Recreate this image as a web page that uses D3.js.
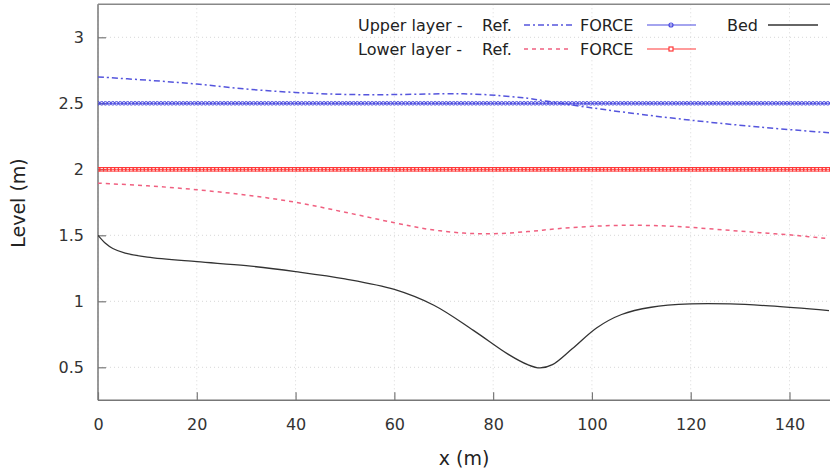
<!DOCTYPE html>
<html><head><meta charset="utf-8">
<script src="https://cdn.jsdelivr.net/npm/d3@7"></script>
<style>body{margin:0;background:#fff}svg{display:block}</style>
</head><body>
<svg id="c" width="830" height="470"></svg>
<script>
const xTicks = [0,20,40,60,80,100,120,140];
const yTicks = [0.5,1,1.5,2,2.5,3];
const yTickLabels = ["0.5","1","1.5","2","2.5","3"];

const upperRefX = [0,10,20,30,40,50,60,70,76,82,87,91,98,107,120,134,148];
const upperRefY = [2.70,2.675,2.646,2.608,2.582,2.567,2.566,2.572,2.57,2.556,2.538,2.515,2.476,2.43,2.372,2.32,2.277];

const lowerRefX = [0,10,20,30,40,50,60,67,74,80,87,93,100,107,114,120,127,134,141,148];
const lowerRefY = [1.895,1.875,1.845,1.805,1.75,1.675,1.595,1.545,1.517,1.512,1.528,1.55,1.568,1.576,1.572,1.56,1.54,1.52,1.50,1.474];

const bedX = [0,1.5,3,5.5,10,20,30,40,50,60,68,76,83,87,89.5,92,96,101,106,112,120,128,136,148];
const bedY = [1.50,1.44,1.40,1.365,1.335,1.30,1.27,1.225,1.17,1.09,0.97,0.78,0.60,0.52,0.495,0.52,0.64,0.80,0.90,0.955,0.98,0.98,0.965,0.93];

const forceX = d3.range(0, 149, 0.75);
const upperForce = forceX.map(() => 2.5);
const lowerForce = forceX.map(() => 2.0);

const svg = d3.select("#c");
const L = 98, T = 4.3, B = 400.3, R = 830;
const x = d3.scaleLinear().domain([0,148.2]).range([L,R]);
const y = d3.scaleLinear().domain([0.25,3.25]).range([B,T]);

svg.append("defs").append("clipPath").attr("id","clip")
  .append("rect").attr("x",L).attr("y",T).attr("width",R-L).attr("height",B-T);

// grid
const grid = svg.append("g");
xTicks.forEach(t=>grid.append("line").attr("x1",x(t)).attr("x2",x(t)).attr("y1",T).attr("y2",B)
  .attr("stroke","#d8d8d8").attr("stroke-width",1).attr("stroke-dasharray","1,3"));
yTicks.forEach(t=>grid.append("line").attr("x1",L).attr("x2",R).attr("y1",y(t)).attr("y2",y(t))
  .attr("stroke","#d8d8d8").attr("stroke-width",1).attr("stroke-dasharray","1,3"));

const font = "'DejaVu Sans', sans-serif";
// axes
const xAxis = svg.append("g").attr("transform",`translate(0,${B})`)
  .call(d3.axisBottom(x).tickValues(xTicks).tickSize(-8).tickPadding(18).tickSizeOuter(0));
const yAxis = svg.append("g").attr("transform",`translate(${L},0)`)
  .call(d3.axisLeft(y).tickValues(yTicks).tickFormat((d,i)=>yTickLabels[i]).tickSize(-8).tickPadding(14).tickSizeOuter(0));
[xAxis,yAxis].forEach(a=>{
  a.select(".domain").attr("stroke","#777").attr("stroke-width",1.5);
  a.selectAll(".tick line").attr("stroke","#777").attr("stroke-width",1.2);
  a.selectAll("text").attr("font-family",font).attr("font-size",16).attr("fill","#333");
});
xAxis.select(".domain").attr("d",`M${L},0H${R}`);
yAxis.select(".domain").attr("d",`M0,${B}V${T}`);
svg.append("line").attr("x1",L).attr("x2",R).attr("y1",T).attr("y2",T).attr("stroke","#888").attr("stroke-width",1.5);

svg.append("text").attr("x",464).attr("y",465).attr("text-anchor","middle")
  .attr("font-family",font).attr("font-size",19).attr("fill","#222").text("x (m)");
svg.append("text").attr("transform","translate(25,203) rotate(-90)").attr("text-anchor","middle")
  .attr("font-family",font).attr("font-size",19).attr("fill","#222").text("Level (m)");

const plot = svg.append("g").attr("clip-path","url(#clip)");
const line = d3.line().x(d=>x(d[0])).y(d=>y(d[1])).curve(d3.curveCatmullRom.alpha(0.5));
const zip = (a,b)=>a.map((v,i)=>[v,b[i]]);

const blueRef = "#5555dd", blueF = "#4a4ae0", redRef = "#f06080", redF = "#ff3838";

plot.append("path").datum(zip(bedX,bedY)).attr("d",line).attr("fill","none")
  .attr("stroke","#333").attr("stroke-width",1.3);
plot.append("path").datum(zip(upperRefX,upperRefY)).attr("d",line).attr("fill","none")
  .attr("stroke",blueRef).attr("stroke-width",1.5).attr("stroke-dasharray","6,3,2,3");
plot.append("path").datum(zip(lowerRefX,lowerRefY)).attr("d",line).attr("fill","none")
  .attr("stroke",redRef).attr("stroke-width",1.5).attr("stroke-dasharray","4,4");

// FORCE upper
plot.append("path").datum(zip(forceX,upperForce)).attr("d",line).attr("fill","none")
  .attr("stroke",blueF).attr("stroke-width",1);
plot.append("g").selectAll("circle").data(zip(forceX,upperForce)).join("circle")
  .attr("cx",d=>x(d[0])).attr("cy",d=>y(d[1])).attr("r",1.8)
  .attr("fill","none").attr("stroke",blueF).attr("stroke-width",1);
// FORCE lower
plot.append("path").datum(zip(forceX,lowerForce)).attr("d",line).attr("fill","none")
  .attr("stroke",redF).attr("stroke-width",1);
plot.append("g").selectAll("rect").data(zip(forceX,lowerForce)).join("rect")
  .attr("x",d=>x(d[0])-1.8).attr("y",d=>y(d[1])-1.8).attr("width",3.6).attr("height",3.6)
  .attr("fill","none").attr("stroke",redF).attr("stroke-width",1);

// legend
const lg = svg.append("g").attr("font-family",font).attr("font-size",16).attr("fill","#222");
function txt(t,xx,yy){lg.append("text").attr("x",xx).attr("y",yy).text(t);}
txt("Upper layer -",358,31); txt("Ref.",482,31); txt("FORCE",580,31); txt("Bed",727,31);
txt("Lower layer -",358,55); txt("Ref.",482,55); txt("FORCE",580,55);
lg.append("line").attr("x1",524).attr("x2",572).attr("y1",25).attr("y2",25).attr("stroke",blueRef).attr("stroke-width",1.5).attr("stroke-dasharray","6,3,2,3");
lg.append("line").attr("x1",524).attr("x2",572).attr("y1",49).attr("y2",49).attr("stroke",redRef).attr("stroke-width",1.5).attr("stroke-dasharray","4,4");
lg.append("line").attr("x1",647).attr("x2",696).attr("y1",25).attr("y2",25).attr("stroke",blueF).attr("stroke-width",1.2);
lg.append("circle").attr("cx",671).attr("cy",25).attr("r",2).attr("fill","none").attr("stroke",blueF).attr("stroke-width",1.2);
lg.append("line").attr("x1",647).attr("x2",696).attr("y1",49).attr("y2",49).attr("stroke",redF).attr("stroke-width",1.2);
lg.append("rect").attr("x",669).attr("y",47).attr("width",4).attr("height",4).attr("fill","#fff").attr("stroke",redF).attr("stroke-width",1.2);
lg.append("line").attr("x1",768).attr("x2",818).attr("y1",25).attr("y2",25).attr("stroke","#333").attr("stroke-width",1.3);
</script>
</body></html>
